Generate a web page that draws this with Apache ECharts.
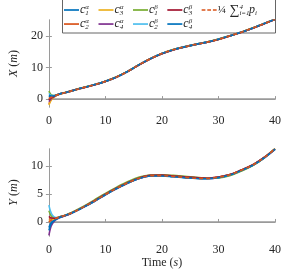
<!DOCTYPE html>
<html><head><meta charset="utf-8">
<script src="https://cdn.jsdelivr.net/npm/echarts@6/dist/echarts.min.js"></script>
<style>html,body{margin:0;padding:0;background:#fff}#c{width:305px;height:271px}</style>
</head><body><div id="c"></div>
<script>
const timeS = [0,0.25,0.5,1,1.5,2,3,4,6,8,10,12,14,16,18,20,22,24,26,28,30,32,34,36,38,40];
const seriesNames = ['c1a','c2a','c3a','c4a','c1b','c2b','c3b','c4b','mean'];
const seriesColors = ['#0072BD','#D95319','#EDB120','#7E2F8E','#77AC30','#4DBEEE','#A2142F','#0072BD','#D95319'];

const xC1a = [0.6,0.9,1.0,1.1,1.4,1.7,2.1,2.6,3.6,4.5,5.6,7.0,8.8,10.9,12.8,14.4,15.6,16.5,17.3,18.0,18.9,20.0,21.1,22.4,23.8,25.2];
const xC2a = [-1.5,-0.6,0.0,0.8,1.3,1.65,2.1,2.55,3.55,4.5,5.65,7.05,8.8,10.85,12.75,14.35,15.6,16.55,17.3,18.0,18.85,19.95,21.1,22.4,23.8,25.2];
const xC3a = [-1.9,-0.8,-0.1,0.7,1.25,1.6,2.05,2.55,3.6,4.55,5.6,7.0,8.85,10.9,12.8,14.4,15.65,16.5,17.3,18.05,18.9,20.0,21.15,22.45,23.8,25.2];
const xC4a = [-0.8,-0.2,0.3,0.9,1.3,1.65,2.1,2.6,3.6,4.5,5.6,6.95,8.8,10.9,12.85,14.4,15.6,16.5,17.35,18.0,18.9,20.05,21.1,22.4,23.85,25.2];
const xC1b = [2.5,1.7,1.3,1.1,1.35,1.7,2.15,2.65,3.65,4.55,5.65,7.05,8.85,10.95,12.85,14.45,15.65,16.55,17.35,18.05,18.95,20.05,21.15,22.45,23.85,25.25];
const xC2b = [1.8,1.3,1.1,1.05,1.35,1.7,2.1,2.6,3.6,4.5,5.6,7.0,8.8,10.9,12.8,14.4,15.6,16.5,17.3,18.0,18.9,20.0,21.1,22.4,23.8,25.2];
const xC3b = [-0.3,0.2,0.5,0.95,1.35,1.7,2.1,2.6,3.55,4.45,5.55,6.95,8.75,10.85,12.75,14.35,15.55,16.45,17.25,17.95,18.85,19.95,21.05,22.35,23.75,25.15];
const xC4b = [1.2,1.05,1.0,1.05,1.4,1.7,2.1,2.6,3.6,4.5,5.6,7.0,8.8,10.9,12.8,14.4,15.6,16.5,17.3,18.0,18.9,20.0,21.1,22.4,23.8,25.2];
const xMean = [0.2,0.45,0.6,0.95,1.35,1.68,2.1,2.6,3.6,4.5,5.6,7.0,8.8,10.9,12.8,14.4,15.6,16.5,17.3,18.0,18.9,20.0,21.1,22.4,23.8,25.2];

const yC1a = [-1.0,-0.4,0.0,0.4,0.65,0.85,1.2,1.6,2.6,3.7,4.9,6.0,7.0,7.8,8.25,8.25,8.1,7.95,7.8,7.75,7.95,8.4,9.2,10.1,11.4,13.0];
const yC2a = [0.6,0.5,0.5,0.6,0.75,0.9,1.2,1.6,2.65,3.75,4.95,6.05,7.05,7.85,8.3,8.3,8.15,8.0,7.85,7.8,8.0,8.45,9.25,10.15,11.45,13.05];
const yC3a = [0.2,0.3,0.4,0.55,0.75,0.9,1.2,1.6,2.6,3.7,4.9,6.0,7.0,7.8,8.25,8.3,8.15,7.95,7.8,7.75,7.95,8.4,9.2,10.1,11.4,13.0];
const yC4a = [-2.4,-1.2,-0.5,0.2,0.55,0.8,1.15,1.55,2.55,3.65,4.85,5.95,6.95,7.75,8.2,8.25,8.1,7.95,7.8,7.75,7.9,8.35,9.15,10.05,11.35,12.95];
const yC1b = [2.0,1.4,1.0,0.75,0.8,0.95,1.25,1.7,2.7,3.9,5.1,6.2,7.2,8.0,8.35,8.4,8.3,8.15,7.95,7.8,7.85,8.25,9.05,10.0,11.35,13.05];
const yC2b = [3.0,2.0,1.4,0.85,0.75,0.9,1.2,1.6,2.6,3.7,4.9,6.0,7.0,7.8,8.25,8.25,8.1,7.95,7.8,7.75,7.95,8.4,9.2,10.1,11.4,13.0];
const yC3b = [1.0,0.8,0.7,0.65,0.75,0.9,1.2,1.6,2.6,3.75,4.95,6.05,7.05,7.85,8.3,8.35,8.2,8.05,7.9,7.8,8.0,8.45,9.25,10.15,11.45,13.0];
const yC4b = [-1.5,-0.7,-0.2,0.3,0.6,0.85,1.2,1.55,2.55,3.65,4.85,5.95,6.95,7.75,8.2,8.2,8.05,7.9,7.75,7.7,7.9,8.35,9.15,10.05,11.35,12.95];
const yMean = [0.0,0.2,0.35,0.55,0.73,0.88,1.2,1.6,2.6,3.7,4.9,6.0,7.0,7.8,8.25,8.25,8.1,7.95,7.8,7.75,7.95,8.4,9.2,10.1,11.4,13.0];

const xTicks = [0,10,20,30,40];
const topYTicks = [0,10,20];
const botYTicks = [0,5,10];
const legendRow1 = ['c1a','c3a','c1b','c3b','mean'];
const legendRow2 = ['c2a','c4a','c2b','c4b'];

const xData = [xC1a,xC2a,xC3a,xC4a,xC1b,xC2b,xC3b,xC4b,xMean];
const yData = [yC1a,yC2a,yC3a,yC4a,yC1b,yC2b,yC3b,yC4b,yMean];

const SERIF = '"Liberation Serif", "DejaVu Serif", serif';
const TXT = '#262626';
const AX = '#9a9a9a';

const legendLabels = {
  c1a: '{c|c}{sb|1}{sp|α}', c2a: '{c|c}{sb|2}{sp|α}', c3a: '{c|c}{sb|3}{sp|α}', c4a: '{c|c}{sb|4}{sp|α}',
  c1b: '{c|c}{sb|1}{sp|β}', c2b: '{c|c}{sb|2}{sp|β}', c3b: '{c|c}{sb|3}{sp|β}', c4b: '{c|c}{sb|4}{sp|β}',
  mean: '{f|¼}{n| ∑}{sb|i=1}{sp|4}{c|  p}{s2|i}'
};
const SOLID_ICON = 'path://M0,0H16V1.8H0Z';
const DASH_ICON = 'path://M0,0H4V1.8H0Z M6,0H10V1.8H6Z M12,0H16V1.8H12Z';

function pairs(arr){ return timeS.map((t,i)=>[t,arr[i]]); }

const series = [];
[0,1].forEach(g=>{
  const src = g===0 ? xData : yData;
  seriesNames.forEach((nm,i)=>{
    series.push({
      name: nm, type:'line', xAxisIndex:g, yAxisIndex:g*2,
      data: pairs(src[i]), smooth:0.35, symbol:'none', showSymbol:false,
      lineStyle:{color:seriesColors[i], width: 1.6, type: nm==='mean'?[4,3]:'solid'},
      itemStyle:{color:seriesColors[i]},
      emphasis:{disabled:true}, animation:false
    });
  });
});

const nameRich = {i:{fontFamily:SERIF,fontStyle:'italic',fontSize:12,color:TXT}};
function xAxisCfg(grid, name){
  return {
    type:'value', gridIndex:grid, min:0, max:40, interval:10,
    name:name||'', nameLocation:'middle', nameGap:21,
    nameTextStyle:{fontFamily:SERIF, fontSize:12, color:TXT, rich:nameRich},
    axisLine:{show:true, lineStyle:{color:AX,width:1}},
    axisTick:{show:true, inside:true, length:3, lineStyle:{color:AX}},
    axisLabel:{fontFamily:SERIF, fontSize:12, color:TXT, margin:8, customValues:xTicks},
    splitLine:{show:false}
  };
}
function topXCfg(grid){
  return {type:'value', gridIndex:grid, position:'top', min:0, max:40, interval:10,
    axisLine:{show:true, lineStyle:{color:AX,width:1.5}},
    axisTick:{show:false}, axisLabel:{show:false}, splitLine:{show:false}};
}
function yAxisCfg(grid, min, max, ticks, name){
  return {
    type:'value', gridIndex:grid, min:min, max:max,
    name:name, nameLocation:'middle', nameGap:21,
    nameTextStyle:{fontFamily:SERIF, fontSize:12, color:TXT, rich:nameRich},
    axisLine:{show:true, lineStyle:{color:AX,width:1}},
    axisTick:{show:true, inside:true, length:3, customValues:ticks, lineStyle:{color:AX}},
    axisLabel:{fontFamily:SERIF, fontSize:12, color:TXT, margin:6, customValues:ticks},
    splitLine:{show:false}
  };
}
function yRightCfg(grid, min, max, ticks){
  return {type:'value', gridIndex:grid, position:'right', min:min, max:max,
    axisLine:{show:true, lineStyle:{color:AX,width:1}},
    axisTick:{show:true, inside:true, length:3, customValues:ticks, lineStyle:{color:AX}},
    axisLabel:{show:false}, splitLine:{show:false}};
}

const sLeg = {fontFamily:SERIF, fontStyle:'italic', fontSize:7, color:TXT};
function legendCfg(items, top){
  return {
    left:64, top:top, orient:'horizontal',
    data: items.map(n=>({name:n, icon: n==='mean'?DASH_ICON:SOLID_ICON})),
    itemWidth:15, itemHeight:1.8, itemGap:9.5,
    padding:0,
    selectedMode:false,
    formatter:function(n){ return legendLabels[n]; },
    textStyle:{fontFamily:SERIF, color:TXT, fontSize:12, padding:[0,0,0,-4],
      rich:{
        c:{fontFamily:SERIF, fontStyle:'italic', fontSize:12, color:TXT, lineHeight:12.5},
        n:{fontFamily:SERIF, fontSize:14, color:TXT, lineHeight:12.5},
        f:{fontFamily:SERIF, fontSize:11, color:TXT, lineHeight:12.5},
        sb:Object.assign({verticalAlign:'bottom', width:0}, sLeg),
        sp:Object.assign({verticalAlign:'top'}, sLeg),
        s2:Object.assign({verticalAlign:'bottom'}, sLeg)
      }}
  };
}

const option = {
  animation:false,
  backgroundColor:'#fff',
  textStyle:{fontFamily:SERIF},
  grid:[
    {left:39, right:30, top:20, height:87},
    {left:39, right:30, top:149, height:87}
  ],
  xAxis:[ xAxisCfg(0,''), xAxisCfg(1,'Time ({i|s})'), topXCfg(0), topXCfg(1) ],
  yAxis:[
    yAxisCfg(0,-2.5,25,topYTicks,'{i|X} ({i|m})'), yRightCfg(0,-2.5,25,topYTicks),
    yAxisCfg(1,-2.5,13,botYTicks,'{i|Y} ({i|m})'), yRightCfg(1,-2.5,13,botYTicks)
  ],
  graphic:[{
    type:'rect', z:3, silent:true,
    shape:{x:62.5, y:-1.5, width:213, height:34.5},
    style:{fill:'#fff', stroke:'#666', lineWidth:1}
  }],
  legend:[ legendCfg(legendRow1, 3), legendCfg(legendRow2, 17.8) ],
  series: series
};
const chart = echarts.init(document.getElementById('c'), null, {renderer:'canvas'});
chart.setOption(option);
</script></body></html>
